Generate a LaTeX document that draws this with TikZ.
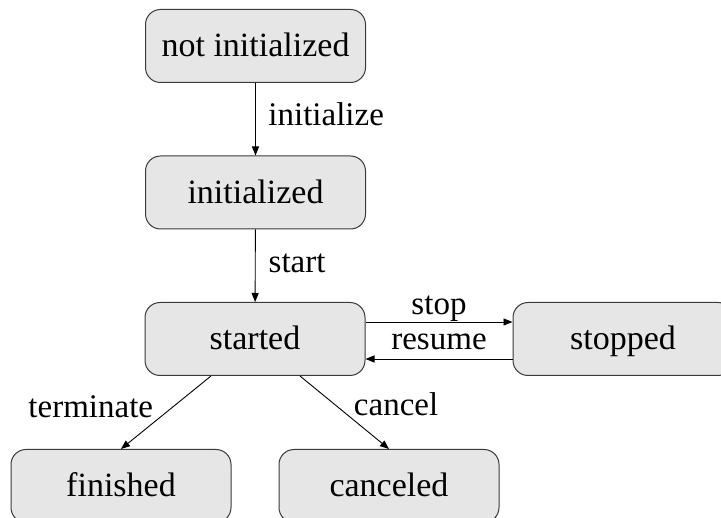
\documentclass[tikz,border=0pt]{standalone}
\usepackage{fontspec}
\setmainfont{Liberation Serif}
\usetikzlibrary{arrows.meta,calc}
\definecolor{boxfill}{HTML}{E6E6E6}
\definecolor{boxline}{HTML}{3A3A3A}
\tikzset{
  state/.style={draw=boxline, line width=1pt, fill=boxfill, rounded corners=15pt,
    minimum width=220pt, minimum height=73pt, inner sep=0pt,
    text height=22pt, text depth=0pt, font=\fontsize{34}{40}\selectfont},
  trans/.style={draw=black, line width=0.9pt, -{Triangle[length=9pt,width=7pt]}},
  lbl/.style={font=\fontsize{33}{40}\selectfont, inner sep=0pt}
}
\begin{document}
\begin{tikzpicture}[x=1pt, y=-1pt]
  \useasboundingbox (0,0) rectangle (721,518);
  \clip (0,0) rectangle (721,518);
  % states
  \node[state] (ni)       at (255.5, 46)  {not initialized};
  \node[state] (init)     at (255.5,192.5) {initialized};
  \node[state] (started)  at (255, 339)   {started};
  \node[state] (stopped)  at (623, 339)   {stopped};
  \node[state] (finished) at (121, 486)   {finished};
  \node[state] (canceled) at (389, 486)   {canceled};
  % transitions
  \draw[trans] (ni) -- node[lbl, anchor=base west, xshift=12.5pt, yshift=-6pt] {initialize} (init);
  \draw[trans] (init) -- node[lbl, anchor=base west, xshift=13pt, yshift=-6.5pt] {start} (started);
  \draw[trans] ($(started.east)+(0,-17)$) -- node[lbl, anchor=base, yshift=7pt] {stop} ($(stopped.west)+(0,-17)$);
  \draw[trans] ($(stopped.west)+(0,20)$) -- node[lbl, anchor=base, yshift=9pt] {resume} ($(started.east)+(0,20)$);
  \draw[trans] ($(started.south)+(-44,0)$) -- node[lbl, anchor=base east, xshift=-12.5pt, yshift=-5.5pt] {terminate} (finished.north);
  \draw[trans] ($(started.south)+(45,0)$) -- node[lbl, anchor=base west, xshift=9pt, yshift=-3.5pt] {cancel} (canceled.north);
\end{tikzpicture}
\end{document}
